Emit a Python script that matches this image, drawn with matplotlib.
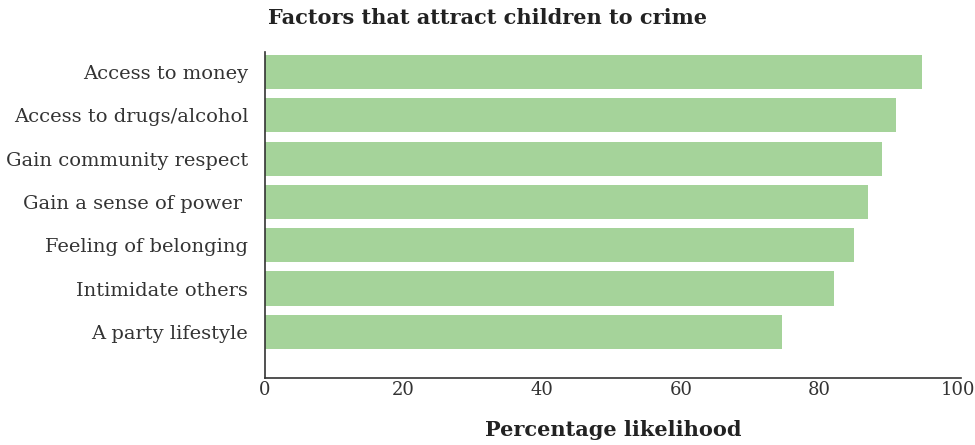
import matplotlib.pyplot as plt
import numpy as np

factors = ["Access to money", "Access to drugs/alcohol", "Gain community respect",
           "Gain a sense of power ", "Feeling of belonging", "Intimidate others",
           "A party lifestyle"]
likelihood = [94.8, 91, 89, 87, 85, 82, 74.6]
xticks = [0, 20, 40, 60, 80, 100]

plt.rcParams['font.family'] = ['DejaVu Serif']

fig = plt.figure(figsize=(9.75, 4.45), dpi=100)
ax = fig.add_axes([0.2718, 0.151, 0.714, 0.732])

y = np.arange(len(factors))
ax.barh(y, likelihood, height=0.79, color='#a5d39a')

ax.set_xlim(0, 100.4)
ax.set_ylim(len(factors) - 1 + 1.06, -0.46)
ax.set_yticks(y)
ax.set_yticklabels(factors, fontsize=14, color='#333333')
ax.set_xticks(xticks)
ax.set_xticklabels([str(t) for t in xticks], fontsize=13, color='#333333')
ax.tick_params(axis='both', length=0)
ax.tick_params(axis='x', pad=2)
ax.tick_params(axis='y', pad=12)

for s in ['top', 'right']:
    ax.spines[s].set_visible(False)
for s in ['left', 'bottom']:
    ax.spines[s].set_color('#333333')
    ax.spines[s].set_linewidth(1.2)

# x label placed in figure coords so it sits close to the bottom edge
fig.text(0.629, 0.034, "Percentage likelihood", ha='center', va='center',
         fontsize=15, fontweight='bold', color='#222222')
fig.text(0.5, 0.96, "Factors that attract children to crime", ha='center',
         va='center', fontsize=15, fontweight='bold', color='#222222')

fig.savefig('out.png', dpi=100)
